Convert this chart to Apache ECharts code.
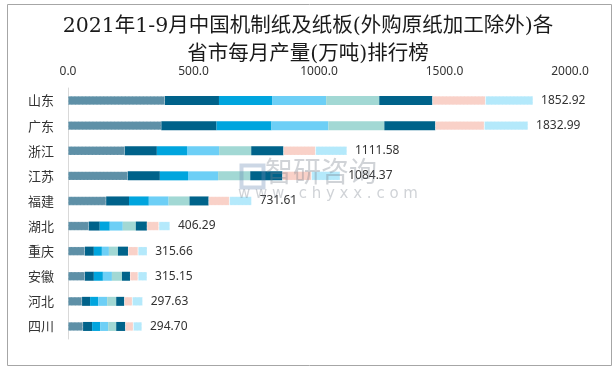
<!DOCTYPE html>
<html>
<head>
<meta charset="utf-8">
<script src="https://cdn.jsdelivr.net/npm/echarts@6/dist/echarts.min.js"></script>
<style>
html,body{margin:0;padding:0;background:#fff;}
#c{width:616px;height:368px;}
</style>
</head>
<body>
<div id="c"></div>
<script>
const categories = ['山东','广东','浙江','江苏','福建','湖北','重庆','安徽','河北','四川'];
const monthNames = ['1-2月','3月','4月','5月','6月','7月','8月','9月'];
const totals = [1852.92,1832.99,1111.58,1084.37,731.61,406.29,315.66,315.15,297.63,294.70];
const m12 = [386, 371.7, 226, 238, 152, 82.6, 67, 67, 56, 60];
const m3  = [215.5, 220.1, 128, 128, 91, 43.9, 36, 36, 32, 36];
const m4  = [211.5, 218.9, 120, 112, 79, 39.9, 32, 36, 32, 32];
const m5  = [215.5, 226.8, 128, 120, 79, 51.9, 28, 36, 36, 32];
const m6  = [211.5, 222.8, 128, 128, 83, 51.9, 36, 40, 36, 32];
const m7  = [211.5, 203.0, 128, 128, 76, 43.9, 40, 32, 32, 36];
const m8  = [211.5, 195.0, 128, 116, 83, 47.9, 40, 32, 32, 32];
const m9  = [189.92, 174.69, 125.58, 114.37, 88.61, 44.29, 36.66, 36.15, 41.63, 34.7];
const xTicks = {min: 0, max: 2000, interval: 500};

const monthData = [m12, m3, m4, m5, m6, m7, m8, m9];
const colors = ['#5E90A7','#00628A','#00A5DE','#6DCFF6','#A2D8D4','#00638A','#F9D1C8','#B4E9FB'];
const dashed = [true,false,false,false,false,false,true,true];

const chart = echarts.init(document.getElementById('c'));
const series = monthData.map((d, i) => {
  const s = {
    name: monthNames[i],
    type: 'bar',
    stack: 'total',
    data: d,
    barWidth: 9,
    itemStyle: {
      color: colors[i],
      borderColor: dashed[i] ? 'rgba(255,255,255,0.35)' : colors[i],
      borderWidth: dashed[i] ? 0.6 : 0,
      borderType: 'dashed'
    },
    emphasis: {disabled: true}
  };
  if (i === monthData.length - 1) {
    s.label = {
      show: true,
      position: 'right',
      distance: 8,
      color: '#333',
      fontSize: 12,
      fontFamily: 'Noto Sans, sans-serif',
      formatter: p => totals[p.dataIndex].toFixed(2)
    };
  }
  return s;
});

chart.setOption({
  animation: false,
  backgroundColor: '#fff',
  title: {
    text: '2021年1-9月中国机制纸及纸板(外购原纸加工除外)各\n省市每月产量(万吨)排行榜',
    left: 'center',
    top: 8,
    textStyle: {
      fontSize: 20.5,
      fontWeight: 'normal',
      color: '#1a1a1a',
      lineHeight: 28,
      fontFamily: 'DejaVu Serif, Noto Sans CJK SC, serif'
    }
  },
  grid: {left: 68, right: 46, top: 88, bottom: 29},
  xAxis: {
    type: 'value',
    position: 'top',
    min: xTicks.min, max: xTicks.max, interval: xTicks.interval,
    axisLine: {show: false},
    axisTick: {show: false},
    splitLine: {show: false},
    axisLabel: {
      margin: 10,
      color: '#333',
      fontSize: 12,
      fontFamily: 'Noto Sans, sans-serif',
      formatter: v => v.toFixed(1)
    }
  },
  yAxis: {
    type: 'category',
    data: categories,
    inverse: true,
    axisLine: {show: true, lineStyle: {color: '#d9d9d9', width: 1}},
    axisTick: {show: false},
    axisLabel: {
      margin: 14,
      color: '#333',
      fontSize: 13,
      fontFamily: 'Noto Sans CJK SC, sans-serif'
    }
  },
  series: series,
  graphic: [
    {
      type: 'rect', left: 5, top: 2,
      shape: {width: 604, height: 361},
      style: {fill: 'none', stroke: '#a6a6a6', lineWidth: 1},
      silent: true, z: 100
    },
    {
      type: 'rect', left: 239, top: 163,
      shape: {width: 22, height: 22},
      style: {fill: 'none', stroke: 'rgba(110,140,180,0.35)', lineWidth: 4},
      silent: true, z: 100
    },
    {
      type: 'text', left: 265, top: 157,
      style: {text: '智研咨询', fill: 'rgba(120,130,140,0.35)', font: '28px "Noto Sans CJK SC"'},
      silent: true, z: 100
    },
    {
      type: 'text', left: 238, top: 187,
      style: {text: 'w w w . c h y x x . c o m', fill: 'rgba(120,130,140,0.35)', font: '15px "DejaVu Sans"'},
      silent: true, z: 100
    }
  ]
});
</script>
</body>
</html>
